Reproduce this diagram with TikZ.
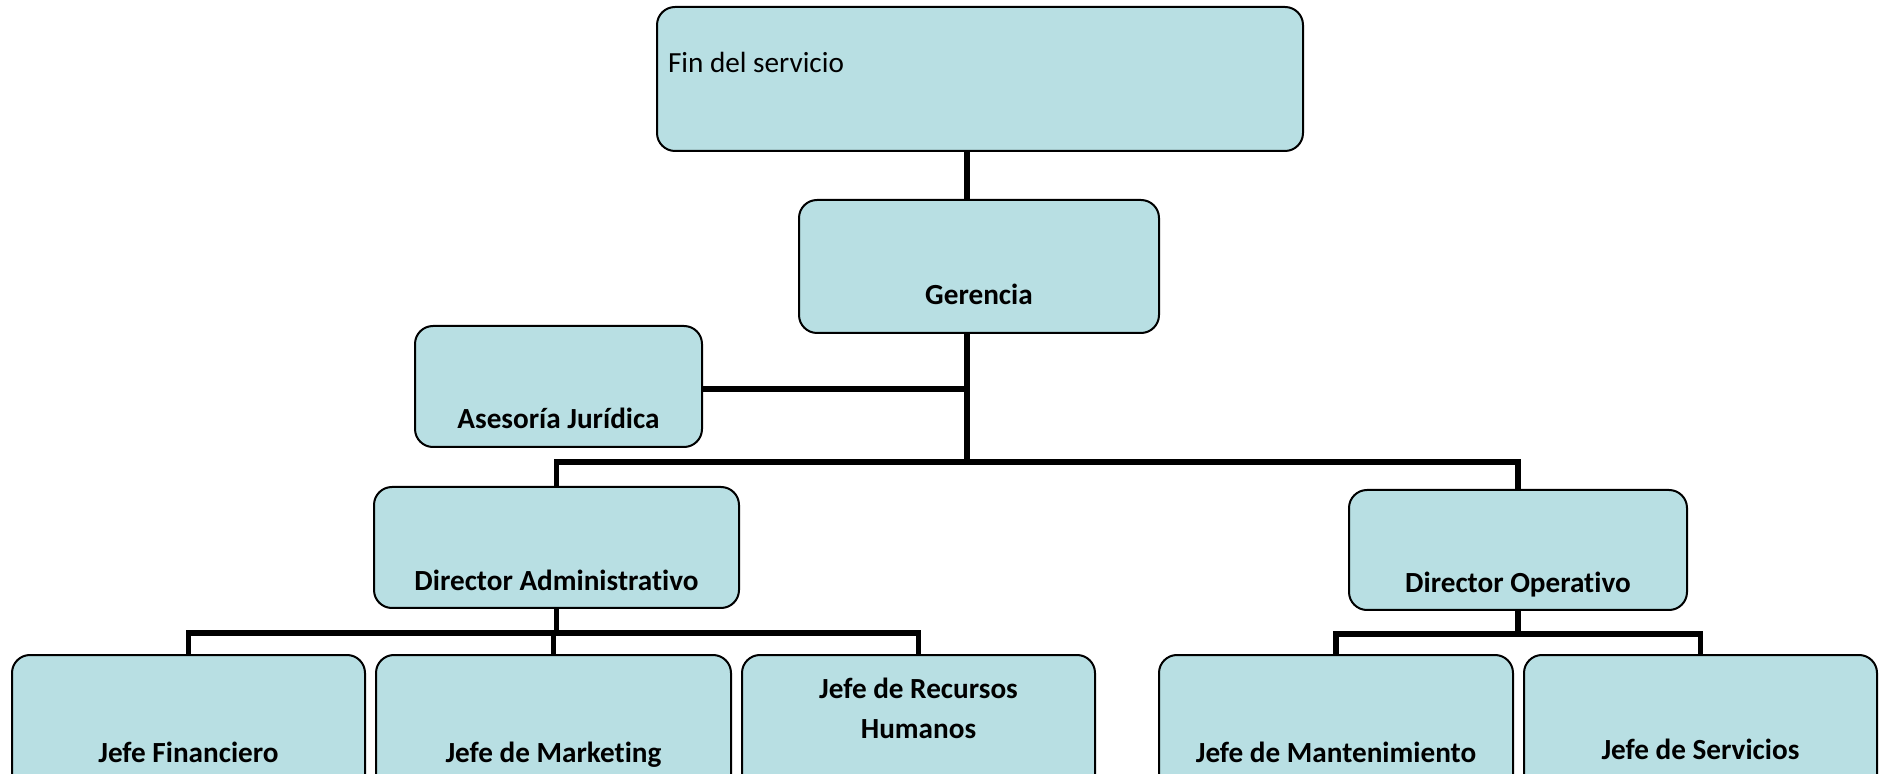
\documentclass[tikz,border=0pt]{standalone}
\usepackage{fontspec}
\setmainfont{Carlito}[Ligatures=CommonOff]
\usepackage{xcolor}
\definecolor{boxfill}{HTML}{B8DFE3}

\begin{document}
\begin{tikzpicture}[x=0.5pt,y=-0.5pt,
    box/.style={draw,fill=boxfill,line width=1pt,rounded corners=9pt,inner sep=0pt,anchor=base,
        font=\fontsize{14.6pt}{20pt}\selectfont\bfseries,align=center},
    conn/.style={line width=2.75pt}]
    \clip (0,0) rectangle (1879,774);
    % cajas
    \node[box,font=\fontsize{14.6pt}{20pt}\selectfont,align=flush left,inner xsep=5.5pt,text width=312pt,
        text height=33pt,text depth=39pt] (serv) at (980,73) {Fin del servicio};
    \node[box,minimum width=180pt,text height=52.5pt,text depth=14pt] (ger) at (979,305) {Gerencia};
    \node[box,minimum width=143.5pt,text height=51.5pt,text depth=9pt] (ase) at (558.5,429) {Asesoría Jurídica};
    \node[box,minimum width=182.5pt,text height=51.5pt,text depth=9pt] (dadm) at (556.5,590) {Director Administrativo};
    \node[box,minimum width=169pt,text height=51.5pt,text depth=8.5pt] (dop) at (1518,593) {Director Operativo};
    \node[box,minimum width=176.5pt,text height=53.5pt,text depth=19pt] (jfin) at (188.5,762) {Jefe Financiero};
    \node[box,minimum width=177.5pt,text height=53.5pt,text depth=19pt] (jmkt) at (553.5,762) {Jefe de Marketing};
    \node[box,minimum width=176.5pt,text height=41.5pt,text depth=31pt] (jrh) at (918.5,738) {Jefe de Recursos\\Humanos};
    \node[box,minimum width=177pt,text height=53.5pt,text depth=19pt] (jman) at (1336,762) {Jefe de Mantenimiento};
    \node[box,minimum width=176.5pt,text height=52pt,text depth=20.5pt] (jser) at (1700.5,759) {Jefe de Servicios};
    % lineas
    \coordinate (jase) at (967,389);
    \coordinate (jdir) at (967,462);
    \draw[conn] (serv.south -| jdir) -- (ger.north -| jdir);
    \draw[conn] (ger.south -| jdir) -- (jdir);
    \draw[conn] (ase.east |- jase) -- (jase);
    \draw[conn] (dadm.north) |- (jdir) -| (dop.north);
    \draw[conn] (dadm.south) -- ++(0,24) coordinate (badm);
    \draw[conn] (jfin.north) |- (badm) -| (jrh.north);
    \draw[conn] (jmkt.north |- badm) -- (jmkt.north);
    \draw[conn] (dop.south) -- ++(0,23) coordinate (bop);
    \draw[conn] (jman.north) |- (bop) -| (jser.north);
\end{tikzpicture}
\end{document}
